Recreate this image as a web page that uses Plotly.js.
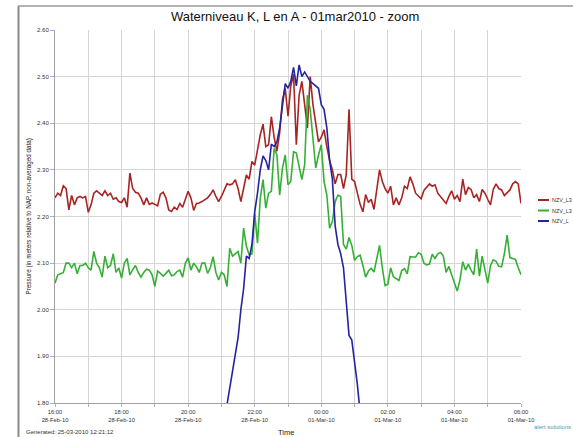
<!DOCTYPE html>
<html>
<head>
<meta charset="utf-8">
<script src="https://cdn.plot.ly/plotly-3.0.1.min.js"></script>
<style>html,body{margin:0;padding:0;background:#fff;overflow:hidden}#chart{width:573px;height:437px}</style>
</head>
<body>
<div id="chart"></div>
<script>
// minutes after 28-Feb-2010 16:00, sampled every 5 minutes
const stepMinutes = 5;
const redVals = [2.240,2.250,2.245,2.266,2.260,2.214,2.245,2.225,2.240,2.243,2.240,2.243,2.209,2.225,2.250,2.255,2.250,2.245,2.255,2.245,
2.250,2.237,2.240,2.232,2.230,2.240,2.220,2.293,2.260,2.252,2.250,2.240,2.225,2.240,2.226,2.229,2.226,2.223,2.248,2.252,
2.240,2.214,2.211,2.220,2.215,2.228,2.220,2.235,2.254,2.240,2.213,2.228,2.229,2.232,2.236,2.240,2.247,2.257,2.243,2.232,
2.243,2.255,2.270,2.268,2.270,2.279,2.260,2.232,2.260,2.289,2.280,2.318,2.310,2.345,2.375,2.398,2.350,2.354,2.414,2.370,
2.340,2.380,2.450,2.475,2.415,2.480,2.505,2.354,2.460,2.490,2.440,2.390,2.500,2.440,2.400,2.360,2.370,2.386,2.350,2.320,
2.300,2.270,2.290,2.290,2.260,2.290,2.430,2.280,2.275,2.250,2.226,2.210,2.247,2.230,2.237,2.215,2.260,2.300,2.275,2.260,
2.250,2.265,2.225,2.240,2.225,2.240,2.265,2.260,2.285,2.270,2.250,2.245,2.238,2.256,2.262,2.270,2.265,2.268,2.250,2.243,
2.235,2.228,2.243,2.255,2.237,2.245,2.232,2.280,2.247,2.262,2.258,2.240,2.247,2.232,2.258,2.250,2.237,2.225,2.258,2.270,
2.260,2.257,2.245,2.250,2.257,2.270,2.275,2.270,2.228];
const greenVals = [2.057,2.075,2.077,2.080,2.100,2.100,2.090,2.100,2.077,2.095,2.095,2.100,2.090,2.085,2.125,2.100,2.090,2.070,2.115,2.090,
2.095,2.120,2.080,2.090,2.068,2.100,2.110,2.075,2.086,2.095,2.080,2.070,2.080,2.087,2.085,2.075,2.050,2.083,2.078,2.072,
2.078,2.085,2.073,2.075,2.082,2.085,2.070,2.100,2.111,2.085,2.100,2.092,2.080,2.100,2.100,2.078,2.090,2.114,2.080,2.064,
2.080,2.075,2.050,2.132,2.115,2.120,2.125,2.100,2.175,2.136,2.118,2.120,2.207,2.143,2.239,2.279,2.218,2.250,2.254,2.346,
2.332,2.246,2.304,2.332,2.268,2.275,2.339,2.336,2.304,2.279,2.311,2.460,2.430,2.368,2.304,2.332,2.354,2.275,2.246,2.175,
2.189,2.232,2.246,2.243,2.140,2.130,2.155,2.138,2.106,2.114,2.117,2.095,2.070,2.083,2.089,2.081,2.109,2.138,2.090,2.052,
2.055,2.090,2.071,2.066,2.063,2.084,2.088,2.077,2.114,2.113,2.113,2.122,2.119,2.100,2.096,2.098,2.119,2.110,2.120,2.123,
2.115,2.080,2.093,2.075,2.058,2.040,2.064,2.103,2.085,2.098,2.085,2.075,2.130,2.072,2.115,2.085,2.057,2.095,2.107,2.104,
2.093,2.092,2.120,2.160,2.112,2.110,2.108,2.090,2.075];
const blueStartMinute = 305;
const blueVals = [1.760,1.797,1.836,1.871,1.905,1.940,2.000,2.045,2.115,2.110,2.140,2.210,2.250,2.300,2.330,2.320,2.300,2.355,2.350,2.360,
2.390,2.440,2.485,2.475,2.490,2.520,2.480,2.525,2.500,2.510,2.500,2.490,2.485,2.480,2.475,2.440,2.430,2.390,2.320,2.280,
2.180,2.140,2.120,2.090,2.020,1.945,1.935,1.890,1.840,1.780];
const seriesNames = ["NZV_L3", "NZV_L3", "NZV_L"];
const seriesColors = ["#a82424", "#35b035", "#2424a0"];
const tickVals = ["2010-02-28 16:00","2010-02-28 18:00","2010-02-28 20:00","2010-02-28 22:00","2010-03-01 00:00","2010-03-01 02:00","2010-03-01 04:00","2010-03-01 06:00"];
const tickText = ["16:00<br>28-Feb-10","18:00<br>28-Feb-10","20:00<br>28-Feb-10","22:00<br>28-Feb-10","00:00<br>01-Mar-10","02:00<br>01-Mar-10","04:00<br>01-Mar-10","06:00<br>01-Mar-10"];

function toTime(m){
  const d = new Date(Date.UTC(2010,1,28,16,0) + m*60000);
  return d.toISOString().slice(0,16).replace('T',' ');
}
const redX = redVals.map((_,i)=>toTime(i*stepMinutes));
const greenX = greenVals.map((_,i)=>toTime(i*stepMinutes));
const blueX = blueVals.map((_,i)=>toTime(blueStartMinute + i*stepMinutes));

const FONT = "Arial, 'Liberation Sans', sans-serif";
const traces = [
  {x:redX, y:redVals, name:seriesNames[0], mode:'lines', line:{color:seriesColors[0], width:1.6}},
  {x:greenX, y:greenVals, name:seriesNames[1], mode:'lines', line:{color:seriesColors[1], width:1.6}},
  {x:blueX, y:blueVals, name:seriesNames[2], mode:'lines', line:{color:seriesColors[2], width:1.6}}
];

const L = 55, W = 466, B = 403, H = 373;
const px = v => (v - L)/W;
const py = v => (B - v)/H;

const shapes = [
  {type:'line', xref:'paper', yref:'paper', x0:px(18.5), x1:px(18.5), y0:py(6), y1:py(445), line:{color:'#8a8a8a', width:2}},
  {type:'line', xref:'paper', yref:'paper', x0:px(18), x1:px(590), y0:py(6), y1:py(6), line:{color:'#9a9a9a', width:1.5}}
];
const legendY = [200, 210.5, 221];
const annotations = [
  {xref:'paper', yref:'paper', x:px(28), xanchor:'center', y:0.5, yanchor:'middle', text:'Pressure (in meters relative to NAP, non-averaged data)', textangle:-90, showarrow:false, font:{family:FONT, size:6.3, color:'#222'}},
  {xref:'paper', yref:'paper', x:px(286), xanchor:'center', y:py(432), yanchor:'middle', text:'Time', showarrow:false, font:{family:FONT, size:7.5, color:'#222'}},
  {xref:'paper', yref:'paper', x:px(24), y:py(432), xanchor:'left', yanchor:'middle', text:'Generated: 25-03-2010 12:21:12', showarrow:false, font:{family:FONT, size:6, color:'#333'}},
  {xref:'paper', yref:'paper', x:px(573), y:py(427), xanchor:'right', yanchor:'middle', text:'alert solutions', showarrow:false, font:{family:FONT, size:6, color:'#3a9fb3'}}
];
seriesNames.forEach((n,i)=>{
  shapes.push({type:'line', xref:'paper', yref:'paper', x0:px(538), x1:px(549), y0:py(legendY[i]), y1:py(legendY[i]), line:{color:seriesColors[i], width:2}});
  annotations.push({xref:'paper', yref:'paper', x:px(550), y:py(legendY[i]), xanchor:'left', yanchor:'middle', text:n, showarrow:false, font:{family:FONT, size:5.4, color:'#333'}});
});

const layout = {
  width:573, height:437,
  margin:{l:55, r:52, t:30, b:34, pad:0},
  paper_bgcolor:'#fff', plot_bgcolor:'#fff',
  showlegend:false,
  title:{text:'Waterniveau K, L en A - 01mar2010 - zoom', x:0.515, xanchor:'center', y:0.962, yanchor:'middle', font:{family:FONT, size:13, color:'#111'}},
  xaxis:{type:'date', range:['2010-02-28 16:00','2010-03-01 06:00'], tickmode:'array', tickvals:tickVals, ticktext:tickText,
    showgrid:true, gridcolor:'#d6d6d6', gridwidth:1, ticks:'outside', ticklen:3, tickcolor:'#b0b0b0',
    showline:true, linecolor:'#a0a0a0', linewidth:1, zeroline:false,
    tickfont:{family:FONT, size:5.8, color:'#333'},
    minor:{tickmode:'linear', tick0:'2010-02-28 16:00', dtick:3600000, showgrid:true, gridcolor:'#d6d6d6', ticks:'outside', ticklen:3, tickcolor:'#b0b0b0'}},
  yaxis:{range:[1.8,2.6], tickmode:'linear', tick0:1.8, dtick:0.1, tickformat:'.2f',
    showgrid:true, gridcolor:'#d6d6d6', gridwidth:1, ticks:'outside', ticklen:4, tickcolor:'#b0b0b0',
    showline:true, linecolor:'#a0a0a0', linewidth:1, zeroline:false,
    tickfont:{family:FONT, size:6, color:'#333'}},
  shapes:shapes,
  annotations:annotations
};
Plotly.newPlot('chart', traces, layout, {displayModeBar:false, staticPlot:true});
</script>
</body>
</html>
